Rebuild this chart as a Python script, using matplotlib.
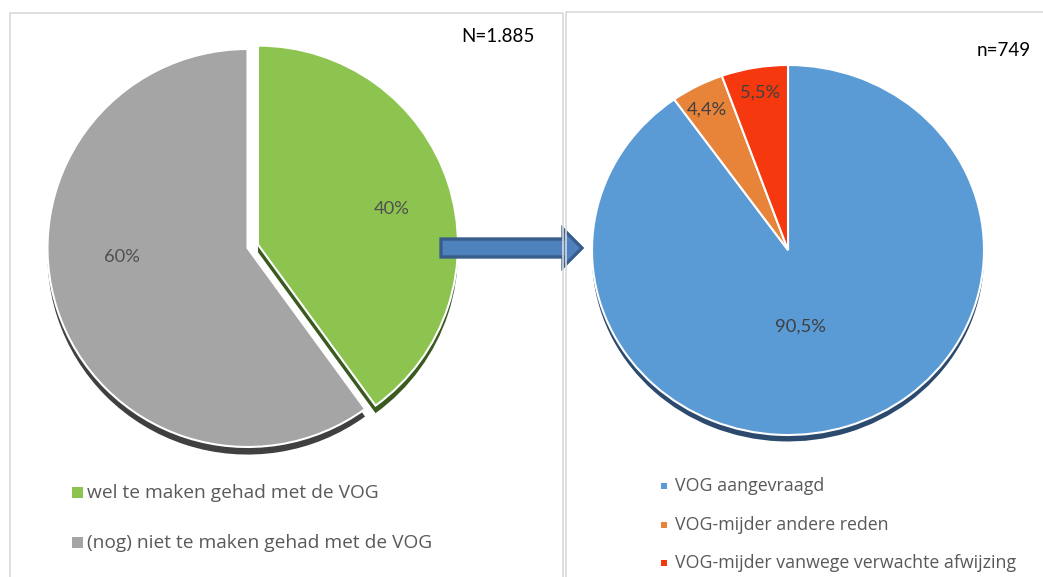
import matplotlib
matplotlib.use('Agg')
import matplotlib.pyplot as plt
from matplotlib.patches import Rectangle, Polygon
import numpy as np

W, H = 1043, 577
DPI = 100

# ---------------- data ----------------
left_labels = ['wel te maken gehad met de VOG', '(nog) niet te maken gehad met de VOG']
left_values = [40, 60]
left_pct = ['40%', '60%']
left_title = 'N=1.885'

right_labels = ['VOG aangevraagd', 'VOG-mijder andere reden',
                'VOG-mijder vanwege verwachte afwijzing']
right_values = [90.5, 4.4, 5.5]
right_pct = ['90,5%', '4,4%', '5,5%']
right_title = 'n=749'

# ---------------- style ----------------
left_colors = ['#8CC44F', '#A5A5A5']
left_shadow = ['#3A5A1F', '#404040']
right_colors = ['#5B9BD5', '#E8833A', '#F5380D']
right_shadow = ['#2C4A6E', '#7A3E12', '#7A1C06']
left_explode = [0.055, 0.0]
left_lab = [(0.69, -3), (0.63, -14)]          # (distance, angle shift)
right_lab = [(0.42, -8.8), (0.865, 1.0), (0.864, -0.3)]
FONT = ['Lato', 'DejaVu Sans']
LEGFONT = ['Open Sans', 'DejaVu Sans']
TXT = '#595959'

plt.rcParams['font.family'] = FONT
fig = plt.figure(figsize=(W / DPI, H / DPI), dpi=DPI)
fig.patch.set_facecolor('white')


def px_axes(cx, cy, rx, ry, lim=1.3, z=1):
    w, h = 2 * lim * rx, 2 * lim * ry
    ax = fig.add_axes([(cx - w / 2) / W, 1 - (cy + h / 2) / H, w / W, h / H])
    ax.set_zorder(z)
    ax.patch.set_alpha(0)
    return ax


def draw_pie(ax, values, colors, shadows, explode, labs, texts, shadow_dy, labcol):
    ax.pie(values, colors=shadows, startangle=90, counterclock=False,
           explode=explode, center=(0, -shadow_dy),
           wedgeprops=dict(linewidth=0))
    wedges, _ = ax.pie(values, colors=colors, startangle=90, counterclock=False,
                       explode=explode,
                       wedgeprops=dict(edgecolor='white', linewidth=1.5))
    for w, (d, sh), t in zip(wedges, labs, texts):
        a = np.deg2rad((w.theta1 + w.theta2) / 2 + sh)
        cx, cy = w.center
        ax.text(cx + d * np.cos(a), cy + d * np.sin(a), t, ha='center', va='center',
                fontsize=13.2, color=labcol)
    ax.set_aspect('auto')
    ax.set_xlim(-1.3, 1.3)
    ax.set_ylim(-1.3, 1.3)
    ax.axis('off')


axL = px_axes(247.5, 248, 200, 199)
draw_pie(axL, left_values, left_colors, left_shadow, left_explode, left_lab, left_pct,
         0.038, '#505050')

axR = px_axes(788, 250, 196, 185)
draw_pie(axR, right_values, right_colors, right_shadow, None, right_lab, right_pct,
         0.035, '#404040')

# ---------------- overlay (pixel coordinates) ----------------
ov = fig.add_axes([0, 0, 1, 1])
ov.set_zorder(10)
ov.patch.set_alpha(0)
ov.set_xlim(0, W)
ov.set_ylim(H, 0)
ov.axis('off')

# panel borders
bc = '#D9D9D9'
ov.plot([9.5, 9.5, 562.5, 562.5], [H + 5, 13, 13, H + 5], color=bc, lw=1.2)
ov.plot([566, 566, W + 5], [H + 5, 12, 12], color=bc, lw=1.2)

# arrow
arrow = Polygon([(441, 239), (563, 239), (563, 229), (582, 248), (563, 267),
                 (563, 257), (441, 257)], closed=True,
                facecolor='#4F81BD', edgecolor='#385D8A', lw=2.4, joinstyle='miter')
ov.add_patch(arrow)

# N texts
ov.text(535, 37, left_title, ha='right', va='center', fontsize=13.5, color='black')
ov.text(1031, 50, right_title, ha='right', va='center', fontsize=13.5, color='black')

# legends
for i, lab in enumerate(left_labels):
    y = 492.5 + 50 * i
    ov.add_patch(Rectangle((72, y - 5.5), 11, 11, facecolor=left_colors[i], edgecolor='none'))
    ov.text(87, y, lab, ha='left', va='center', fontsize=13.8, color=TXT, family=LEGFONT)

for i, (lab, y) in enumerate(zip(right_labels, [486, 524.5, 563])):
    ov.add_patch(Rectangle((661, y - 3), 6, 6, facecolor=right_colors[i], edgecolor='none'))
    ov.text(675, y, lab, ha='left', va='center', fontsize=12.8, color=TXT, family=LEGFONT)

fig.savefig('out.png', dpi=DPI)
